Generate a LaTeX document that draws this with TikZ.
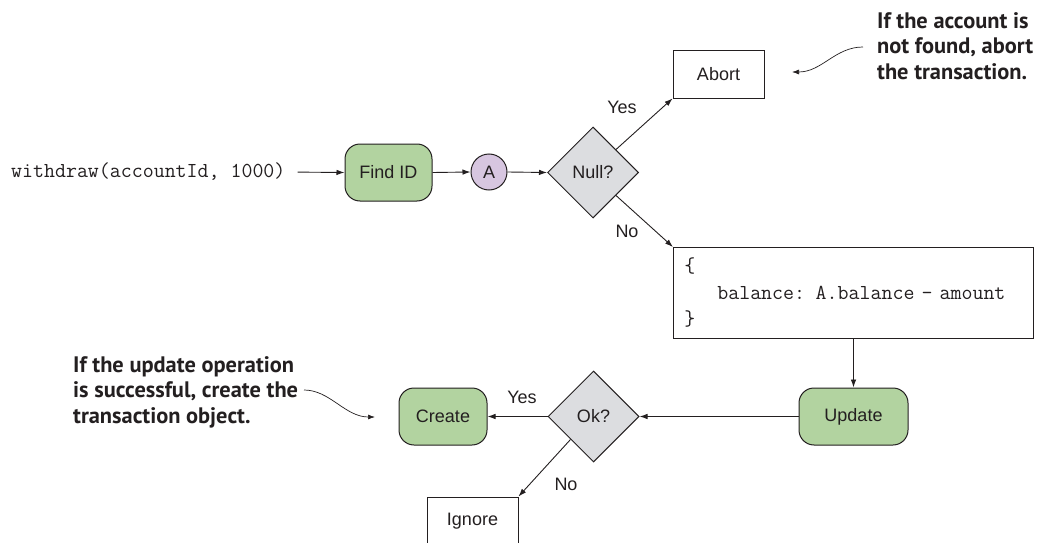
\documentclass[tikz,border=0pt]{standalone}
\usepackage{fontspec}
\setmainfont{Liberation Sans}
\newfontfamily\annfont{PT Sans}
\usetikzlibrary{shapes.geometric,arrows.meta}
\definecolor{ink}{HTML}{231F20}
\definecolor{boxgreen}{HTML}{B2D3A0}
\definecolor{lav}{HTML}{D7C6E0}
\definecolor{dgray}{HTML}{DCDDE0}
\tikzset{
  every node/.style={text=ink},
  conn/.style={draw=ink, line width=0.9pt, -{Latex[length=8pt,width=5.5pt]}},
  curvy/.style={draw=ink, line width=0.7pt, -{Latex[length=7pt,width=5pt]}},
  proc/.style={draw=ink, line width=1pt, fill=boxgreen, rounded corners=15pt, minimum height=57pt, inner sep=0pt, font=\fontsize{18}{21}\selectfont},
  plainbox/.style={draw=ink, line width=0.9pt, fill=white, minimum width=91pt, minimum height=48pt, inner sep=0pt, font=\fontsize{18}{21}\selectfont},
  decision/.style={diamond, aspect=1, draw=ink, line width=1pt, fill=dgray, minimum width=91pt, minimum height=91pt, inner sep=0pt, font=\fontsize{18}{21}\selectfont},
  lbl/.style={font=\fontsize{18}{21}\selectfont, inner sep=0pt},
  note/.style={font=\annfont\bfseries\fontsize{22.4}{25.5}\selectfont, align=left, inner sep=0pt},
  mono/.style={font=\ttfamily\fontsize{21.3}{26.5}\selectfont}
}
\begin{document}
\begin{tikzpicture}[x=1pt,y=-1pt]
\useasboundingbox (0,0) rectangle (1037,543);

\node[mono, anchor=west, inner sep=0pt] (call) at (11,172) {withdraw(accountId, 1000)};
\node[proc, minimum width=87pt] (find) at (388.5,172.5) {Find ID};
\node[circle, draw=ink, line width=1pt, fill=lav, minimum size=36pt, inner sep=0pt, font=\fontsize{18}{21}\selectfont] (a) at (489,172) {A};
\node[decision] (null) at (593,172.5) {Null?};
\node[plainbox] (abort) at (718.5,74) {Abort};
\node[draw=ink, line width=0.9pt, mono, align=left, text width=338pt, inner xsep=11pt, inner ysep=0pt, minimum height=91pt, anchor=north west] (code) at (673,247) {\{\\\phantom{bal}balance: A.balance - amount\\\}};
\node[proc, minimum width=109pt] (update) at (853.5,416.5) {Update};
\node[decision] (ok) at (593.5,416.5) {Ok?};
\node[proc, minimum width=88pt] (create) at (443,416.5) {Create};
\node[plainbox] (ignore) at (472.5,521) {Ignore};

\node[lbl] (yes1) at (622,107) {Yes};
\node[lbl] (no1) at (627,231) {No};
\node[lbl] (yes2) at (522,397) {Yes};
\node[lbl] (no2) at (566,484) {No};

\node[note, anchor=north west] (note1) at (877,12) {If the account is\\not found, abort\\the transaction.};
\node[note, anchor=north west] (note2) at (73,356) {If the update operation\\is successful, create the\\transaction object.};

\coordinate (n1s) at (863,47);
\coordinate (n1e) at (792,72);
\coordinate (n2s) at (304,390);
\coordinate (n2e) at (375,417);

\draw[conn, shorten <=12pt] (call.east) -- (find.west);
\draw[conn] (find.east) -- (a.west);
\draw[conn] (a.east) -- (null.west);
\draw[conn] (null.north east) -- (abort.south west);
\draw[conn] (null.south east) -- (code.north west);
\draw[conn] (code.south) -- (update.north);
\draw[conn] (update.west) -- (ok.east);
\draw[conn] (ok.west) -- (create.east);
\draw[conn] (ok.south west) -- (ignore.north east);

\draw[curvy] (n1s) .. controls (835,47) and (822,72) .. (n1e);
\draw[curvy] (n2s) .. controls (330,390) and (345,417) .. (n2e);
\end{tikzpicture}
\end{document}
